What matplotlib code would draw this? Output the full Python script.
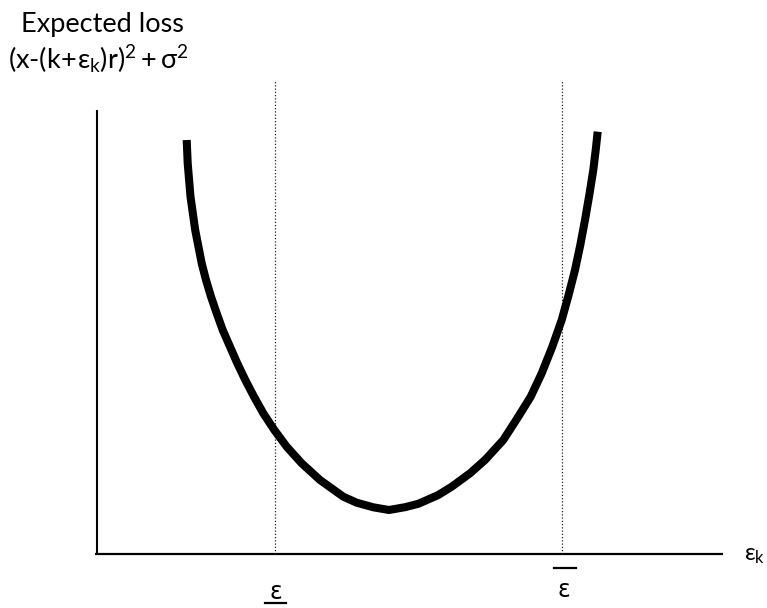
import matplotlib
matplotlib.use('Agg')
import matplotlib.pyplot as plt

plt.rcParams['font.family'] = ['Lato', 'DejaVu Sans']
plt.rcParams['mathtext.fontset'] = 'custom'
plt.rcParams['mathtext.rm'] = 'Lato'
plt.rcParams['mathtext.it'] = 'Lato:italic'
plt.rcParams['mathtext.fallback'] = 'cm'

# Expected-loss curve (x: distance right of the vertical axis, y: height above the horizontal axis)
curve_x = [89.7, 90.7, 93.5, 98.2, 104.7, 109.0, 114.0, 119.7, 125.7, 133.0,
           140.3, 148.3, 157.0, 166.3, 177.3, 189.7, 204.7, 223.0, 246.3, 259.7,
           276.3, 292.0, 308.0, 321.3, 341.3, 354.7, 373.0, 388.0, 406.3, 421.3,
           433.7, 444.7, 455.3, 464.7, 471.6, 478.0, 483.3, 488.0, 492.3, 496.3,
           498.7, 500.7]
curve_y = [414.0, 390.7, 357.3, 324.0, 290.7, 274.0, 257.3, 240.7, 224.0, 207.3,
           190.7, 174.0, 157.3, 140.7, 124.0, 107.3, 90.7, 74.0, 57.3, 51.3,
           46.7, 44.0, 46.8, 50.2, 59.0, 67.3, 80.7, 94.0, 114.0, 137.3,
           157.3, 180.7, 207.3, 234.0, 259.0, 284.0, 309.0, 334.0, 359.0, 384.0,
           404.0, 422.3]

# lower / upper bounds of epsilon (dotted verticals)
bounds = [178.0, 465.0]
bound_top = 474.0

y_axis_top = 444.0
x_axis_right = 626.0

title_line1 = 'Expected loss'
title_line2 = r'$\mathregular{(x\text{-}(k\!+\!ε_k)r)^2 + σ^2}$'
x_label = r'$\mathregular{ε_k}$'
bound_text = 'ε'

fig = plt.figure(figsize=(7.67, 6.08), dpi=100)
ax = fig.add_axes([0, 0, 1, 1])
ax.set_xlim(-97, 670)
ax.set_ylim(-54, 554)
ax.axis('off')

# axes lines
ax.plot([0, 0], [0, y_axis_top], color='black', lw=1.5, solid_capstyle='butt')
ax.plot([-2, x_axis_right], [0, 0], color='black', lw=1.6, solid_capstyle='butt')

# dotted bounds
ax.vlines(bounds, 0, bound_top, colors='#222222', linestyles=(0, (1, 1.6)), lw=0.9)

# curve
ax.plot(curve_x, curve_y, color='black', lw=5.8, solid_capstyle='butt', solid_joinstyle='round')

# labels
ax.text(5, 522, title_line1, ha='center', va='baseline', fontsize=19.5)
ax.text(1, 485, title_line2, ha='center', va='baseline', fontsize=19.5)
ax.text(647, -1, x_label, ha='left', va='center', fontsize=17)

lo, hi = bounds
ax.text(lo + 1, -38, bound_text, ha='center', va='center', fontsize=17, family='DejaVu Sans')
ax.plot([lo - 10, lo + 11], [-49, -49], color='black', lw=1.6)
ax.text(hi + 2, -36, bound_text, ha='center', va='center', fontsize=17, family='DejaVu Sans')
ax.plot([hi - 8, hi + 14], [-14, -14], color='black', lw=1.6)

fig.savefig('out.png', dpi=100)
